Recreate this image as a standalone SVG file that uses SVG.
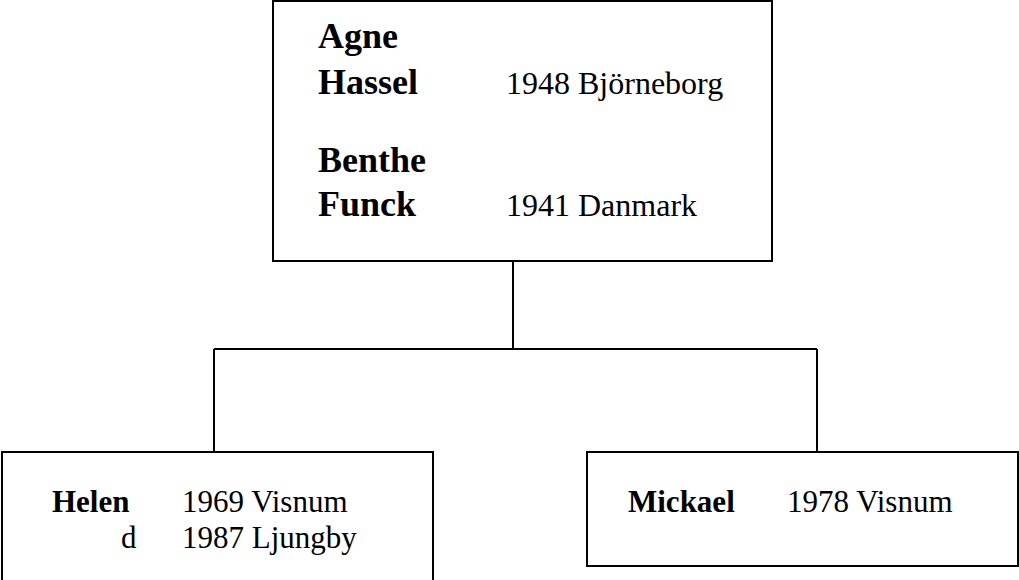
<svg xmlns="http://www.w3.org/2000/svg" width="1019" height="580" viewBox="0 0 1019 580">
<style>
.box{fill:#fff;stroke:#000;stroke-width:2}
.ln{fill:none;stroke:#000;stroke-width:2}
.nb{font-family:"Liberation Serif","Times New Roman",serif;font-weight:bold;fill:#000}
.tr{font-family:"Liberation Serif","Times New Roman",serif;fill:#000;font-size:32px}
.big{font-size:36px}
.sm{font-size:31px}
.tr.s{font-size:31px}
</style>
<rect width="1019" height="580" fill="#fff"/>
<g id="connectors">
<path class="ln" d="M513 261 V349 M214 349 H817 M214 349 V452 M817 349 V452"/>
</g>
<g id="parents">
<rect class="box" x="273" y="1" width="499" height="260"/>
<text class="nb big" x="318" y="48">Agne</text>
<text class="nb big" x="318" y="94">Hassel</text>
<text class="tr" x="506" y="94">1948 Björneborg</text>
<text class="nb big" x="318" y="172">Benthe</text>
<text class="nb big" x="318" y="216">Funck</text>
<text class="tr" x="506" y="216">1941 Danmark</text>
</g>
<g id="helen">
<rect class="box" x="2" y="452" width="431" height="140"/>
<text class="nb sm" x="52" y="512">Helen</text>
<text class="tr s" x="182" y="512">1969 Visnum</text>
<text class="tr s" x="121" y="548">d</text>
<text class="tr s" x="182" y="548">1987 Ljungby</text>
</g>
<g id="mickael">
<rect class="box" x="587" y="452" width="431" height="114"/>
<text class="nb sm" x="628" y="512">Mickael</text>
<text class="tr s" x="787" y="512">1978 Visnum</text>
</g>
</svg>
